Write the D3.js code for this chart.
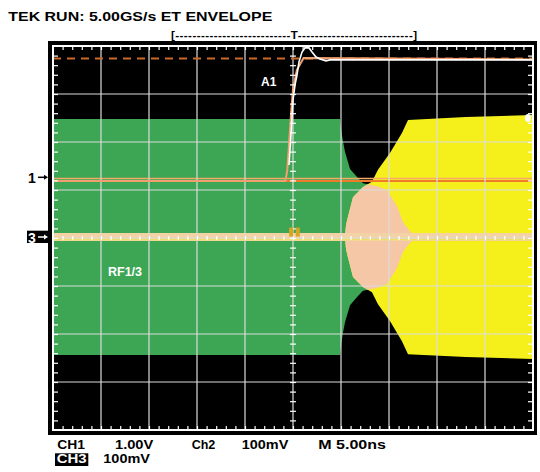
<!DOCTYPE html>
<html><head><meta charset="utf-8">
<script src="https://cdn.jsdelivr.net/npm/d3@7"></script>
<style>html,body{margin:0;padding:0;background:#fff;}svg{display:block;}</style>
</head><body>
<script>
// ---- data (time in ns, amplitude in divisions) ----
const titleText = "TEK RUN: 5.00GS/s ET ENVELOPE";
const recordText = "[---------------------------T---------------------------]";
const bottomRow1 = ["CH1", "1.00V", "Ch2", "100mV", "M 5.00ns"];
const bottomRow2 = ["CH3", "100mV"];
const traceLabels = ["A1", "RF1/3"];

// green envelope (RF1), half-amplitude vs time
const greenT = [-25, 4.9, 5.05, 5.2, 5.42, 5.94, 6.67, 7.29, 8.75, 9.79, 10.83, 11.46, 12.19, 12.92];
const greenA = [2.46, 2.46, 2.2, 2.0, 1.77, 1.42, 1.25, 1.12, 1.06, 0.98, 0.65, 0.31, 0.12, 0];
// yellow envelope (RF3)
const yellowT = [5.42, 5.5, 5.63, 6.25, 7.29, 8.23, 8.85, 10.1, 11.35, 11.98, 18, 25];
const yellowA = [0, 0.22, 0.35, 0.83, 1.04, 1.15, 1.4, 1.75, 2.17, 2.44, 2.5, 2.54];
const envCenter = 0.02;

// CH1 step (orange)
const ch1T = [-25, -0.8, -0.6, -0.4, -0.2, 0, 0.4, 1.1, 25];
const ch1V = [1.19, 1.19, 1.4, 2.0, 2.6, 3.1, 3.5, 3.75, 3.72];
const ch1Level = 1.19;
// A1 (white) trace
const a1T = [-0.42, -0.21, 0, 0.21, 0.42, 0.625, 0.94, 1.25, 1.67, 1.98, 2.4, 2.81, 3.44, 3.85, 25];
const a1V = [1.52, 2.15, 2.875, 3.19, 3.40, 3.67, 3.875, 3.96, 3.96, 3.875, 3.77, 3.73, 3.69, 3.71, 3.71];
const refLevel = 3.74;     // dashed orange reference
const ch3Level = 0.02;     // CH3 centre trace

// ---- drawing ----
const W = 540, H = 472;
const svg = d3.select("body").append("svg").attr("width", W).attr("height", H);
const font = "'Liberation Sans', Arial, Helvetica, sans-serif";

const x = d3.scaleLinear().domain([-25, 25]).range([53, 533]);
const y = d3.scaleLinear().domain([-4, 4]).range([430, 46]);

// frame
svg.append("rect").attr("x", 48).attr("y", 41).attr("width", 489).attr("height", 394).attr("fill", "#000");

const plot = svg.append("g");
plot.append("clipPath").attr("id", "clip").append("rect")
  .attr("x", x(-25)).attr("y", y(4)).attr("width", x(25) - x(-25)).attr("height", y(-4) - y(4));
const inner = plot.append("g").attr("clip-path", "url(#clip)");

const area = d3.area().x(d => x(d[0])).y0(d => y(envCenter - d[1])).y1(d => y(envCenter + d[1]));
inner.append("path").datum(greenT.map((t, i) => [t, greenA[i]])).attr("d", area).attr("fill", "#3da654");
inner.append("path").datum(yellowT.map((t, i) => [t, yellowA[i]])).attr("d", area).attr("fill", "#f5f01c");

const gS = d3.scaleLinear().domain(greenT).range(greenA).clamp(true);
const yS = d3.scaleLinear().domain(yellowT).range(yellowA).clamp(true);
const ov = d3.range(yellowT[0], greenT[greenT.length - 1] + 0.001, 0.05).map(t => [t, Math.min(gS(t), yS(t))]);
inner.append("path").datum(ov).attr("d", area).attr("fill", "#f6c7a7");

// CH3 centre band
inner.append("line").attr("x1", x(-25)).attr("x2", x(25)).attr("y1", y(ch3Level)).attr("y2", y(ch3Level))
  .attr("stroke", "#f3d3a6").attr("stroke-width", 8);
inner.append("line").attr("x1", x(-25)).attr("x2", x(25)).attr("y1", y(ch3Level) + 2.5).attr("y2", y(ch3Level) + 2.5)
  .attr("stroke", "#f0e060").attr("stroke-width", 1.5);

// CH1 level line
inner.append("line").attr("x1", x(-25)).attr("x2", x(25)).attr("y1", y(ch1Level) - 2.5).attr("y2", y(ch1Level) - 2.5)
  .attr("stroke", "#f6a868").attr("stroke-width", 1.5);
inner.append("line").attr("x1", x(-25)).attr("x2", x(25)).attr("y1", y(ch1Level)).attr("y2", y(ch1Level))
  .attr("stroke", "#ee7a2a").attr("stroke-width", 2);

// grid
const majT = d3.range(-20, 21, 5), majV = d3.range(-3, 4, 1);
inner.selectAll(".gv").data(majT).join("line").attr("x1", d => x(d)).attr("x2", d => x(d))
  .attr("y1", y(4)).attr("y2", y(-4)).attr("stroke", "#dcdcdc").attr("stroke-width", 1.2);
inner.selectAll(".gh").data(majV).join("line").attr("y1", d => y(d)).attr("y2", d => y(d))
  .attr("x1", x(-25)).attr("x2", x(25)).attr("stroke", "#dcdcdc").attr("stroke-width", 1.2);

// minor ticks via axes
const minT = d3.range(-24, 25, 1), minV = d3.range(-3.8, 3.81, 0.2);
function tickAxis(ax, tr) {
  const g = plot.append("g").attr("transform", tr).call(ax);
  g.select(".domain").remove();
  g.selectAll("text").remove();
  g.selectAll("line").attr("stroke", "#fff").attr("stroke-width", 1.2);
  return g;
}
tickAxis(d3.axisBottom(x).tickValues(minT).tickSize(4).tickFormat(""), `translate(0,${y(4)})`);
tickAxis(d3.axisTop(x).tickValues(minT).tickSize(4).tickFormat(""), `translate(0,${y(-4)})`);
tickAxis(d3.axisRight(y).tickValues(minV).tickSize(5).tickFormat(""), `translate(${x(-25)},0)`);
tickAxis(d3.axisLeft(y).tickValues(minV).tickSize(5).tickFormat(""), `translate(${x(25)},0)`);
tickAxis(d3.axisBottom(x).tickValues(minT).tickSize(2).tickFormat(""), `translate(0,${y(0)})`)
  .selectAll("line").attr("y1", -2);
tickAxis(d3.axisRight(y).tickValues(minV).tickSize(3).tickFormat(""), `translate(${x(0)},0)`)
  .selectAll("line").attr("x1", -3);

// border
plot.append("rect").attr("x", x(-25)).attr("y", y(4)).attr("width", x(25) - x(-25)).attr("height", y(-4) - y(4))
  .attr("fill", "none").attr("stroke", "#fff").attr("stroke-width", 2);

// dashed reference
inner.append("line").attr("x1", x(-25)).attr("x2", x(25)).attr("y1", y(refLevel)).attr("y2", y(refLevel))
  .attr("stroke", "#c9692b").attr("stroke-width", 2).attr("stroke-dasharray", "8,6");

// CH1 step and A1 trace
const line = d3.line().x(d => x(d[0])).y(d => y(d[1]));
inner.append("path").datum(ch1T.map((t, i) => [t, ch1V[i]])).attr("d", line)
  .attr("fill", "none").attr("stroke", "#f0a070").attr("stroke-width", 2);
inner.append("path").datum(a1T.map((t, i) => [t, a1V[i]])).attr("d", line)
  .attr("fill", "none").attr("stroke", "#fff").attr("stroke-width", 1.6);

// trigger marker
[-3.9, 2.8].forEach(o => {
  plot.append("rect").attr("x", x(0) + o).attr("y", y(ch3Level) - 9.5).attr("width", 4).attr("height", 9)
    .attr("fill", "#d9a51f");
});
// right-side marker
plot.append("ellipse").attr("cx", x(25) - 5).attr("cy", y(2.5)).attr("rx", 3).attr("ry", 4).attr("fill", "#fff");

// trace labels
plot.append("text").attr("x", 261).attr("y", 85.5).text(traceLabels[0])
  .attr("font-family", font).attr("font-weight", "bold").attr("font-size", 12).attr("fill", "#fff");
plot.append("text").attr("x", 108).attr("y", 276).text(traceLabels[1])
  .attr("font-family", font).attr("font-weight", "bold").attr("font-size", 12.5).attr("fill", "#fff");

// title and record bar
function txt(s, xx, yy, w, size, opts = {}) {
  const t = svg.append("text").attr("x", xx).attr("y", yy).text(s)
    .attr("font-family", font).attr("font-weight", opts.weight || "bold").attr("font-size", size)
    .attr("fill", opts.fill || "#000");
  if (w) t.attr("textLength", w).attr("lengthAdjust", opts.adj || "spacingAndGlyphs");
  return t;
}
txt(titleText, 8.3, 20.7, 264, 12.5);
txt(recordText, 171, 39, 246, 11.5, { weight: "bold", adj: "spacing" });

// bottom readout
const row1X = [57.3, 115, 191.7, 241.7, 318.3], row1W = [27.7, 38.3, null, 46.6, 67.7];
bottomRow1.forEach((s, i) => txt(s, row1X[i], 449, row1W[i], 12.5));
svg.append("rect").attr("x", 55).attr("y", 453.3).attr("width", 33.3).attr("height", 12.7).attr("fill", "#000");
txt(bottomRow2[0], 56.7, 463.3, 30, 12.5, { fill: "#fff" });
txt(bottomRow2[1], 103.3, 463.3, 46.7, 12.5);

// channel markers
txt("1", 28, 182.5, null, 14);
function arrow(yy, col) {
  svg.append("line").attr("x1", 38).attr("x2", 45).attr("y1", yy).attr("y2", yy).attr("stroke", col).attr("stroke-width", 1.5);
  svg.append("path").attr("d", `M44,${yy - 2.5}L48,${yy}L44,${yy + 2.5}Z`).attr("fill", col);
}
arrow(177.3, "#000");
svg.append("rect").attr("x", 27).attr("y", 230.7).attr("width", 21).attr("height", 12.3).attr("fill", "#000");
txt("3", 28, 242.5, null, 14, { fill: "#fff" });
arrow(237, "#fff");
</script>
</body></html>
